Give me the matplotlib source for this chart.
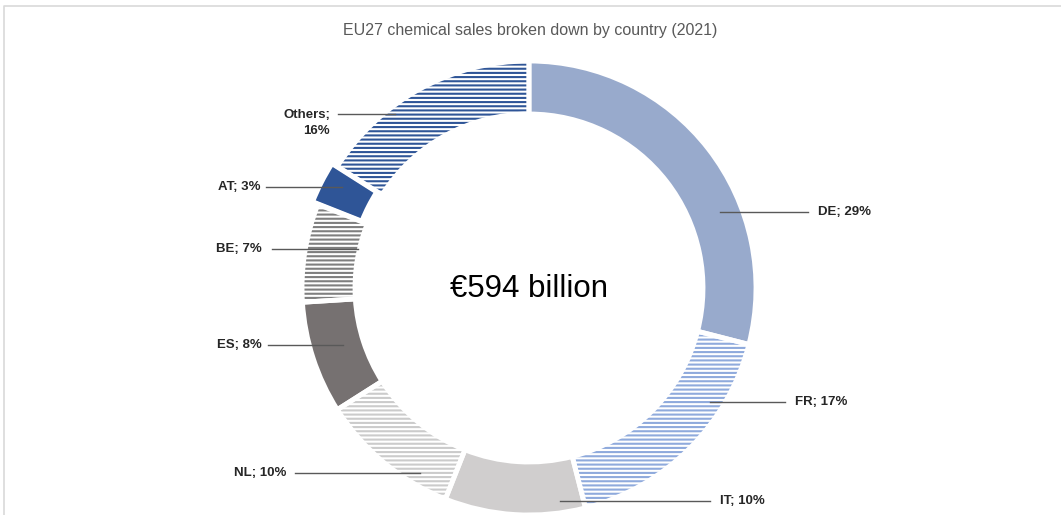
import matplotlib
matplotlib.use('Agg')
from matplotlib import pyplot as plt

plt.rcParams['font.family'] = ['Liberation Sans Narrow', 'Liberation Sans', 'DejaVu Sans']
plt.rcParams['hatch.linewidth'] = 1.5

W, H = 1061, 515

countries = ['DE', 'FR', 'IT', 'NL', 'ES', 'BE', 'AT', 'Others']
shares = [29, 17, 10, 10, 8, 7, 3, 16]
total_sales = 594  # EUR billion

fill_colors = ['#98AACC', 'white', '#D0CECE', 'white', '#767171', 'white', '#2F5597', 'white']
stripe_colors = [None, '#8FAADC', None, '#CBCBCB', None, '#7F7F7F', None, '#2F5597']

# leader line x0, x1, y and text anchor x, alignment (pixel units, y from top)
label_layout = [
    (720, 808, 212, 818, 'left'),
    (710, 785, 402, 795, 'left'),
    (560, 710, 501, 720, 'left'),
    (420, 295, 473, 286, 'right'),
    (343, 268, 345, 262, 'right'),
    (358, 272, 249, 262, 'right'),
    (342, 266, 187, 260, 'right'),
    (395, 338, 114, 330, 'right'),
]


def Y(y):
    return H - y


fig = plt.figure(figsize=(W / 100, H / 100), dpi=100)
ax = fig.add_axes([0, 0, 1, 1])

cx, cy, R, ring = 529, Y(288), 227, 53
explode = [0, 0, 0, 0, 0, 0, 6, 0]

wedges, _ = ax.pie(shares, radius=R, center=(cx, cy), startangle=90, counterclock=False,
                   explode=explode, colors=fill_colors,
                   wedgeprops=dict(width=ring, linewidth=0))
for w, sc in zip(wedges, stripe_colors):
    if sc is not None:
        w.set_edgecolor(sc)
        w.set_linewidth(0)
        w.set_hatch('----')

# white gaps between the segments
ax.pie(shares, radius=R, center=(cx, cy), startangle=90, counterclock=False,
       explode=explode, colors=['none'] * len(shares),
       wedgeprops=dict(width=ring, linewidth=3.5, edgecolor='white', fill=False))

for name, share, (x0, x1, y, tx, ha) in zip(countries, shares, label_layout):
    ax.plot([x0, x1], [Y(y), Y(y)], color='#595959', lw=1)
    if name == 'Others':
        txt = 'Others;\n%d%%' % share
        ax.text(tx, Y(y) - 9, txt, ha=ha, va='center', fontsize=9.5, fontweight='bold',
                color='#262626', linespacing=1.55, multialignment='right')
    else:
        ax.text(tx, Y(y), '%s; %d%%' % (name, share), ha=ha, va='center', fontsize=9.5,
                fontweight='bold', color='#262626')

ax.text(cx, Y(289), '\u20ac%d billion' % total_sales, ha='center', va='center',
        fontsize=22.5, color='black')

ax.text(W / 2, Y(30), 'EU27 chemical sales broken down by country (2021)', ha='center',
        va='center', fontsize=11.5, color='#595959')

# chart frame
ax.plot([4, 4, W], [0, Y(6), Y(6)], color='#D9D9D9', lw=1.2)

ax.set_xlim(0, W)
ax.set_ylim(0, H)
ax.set_aspect('equal')
ax.axis('off')

fig.savefig('out.png', dpi=100, facecolor='white')
